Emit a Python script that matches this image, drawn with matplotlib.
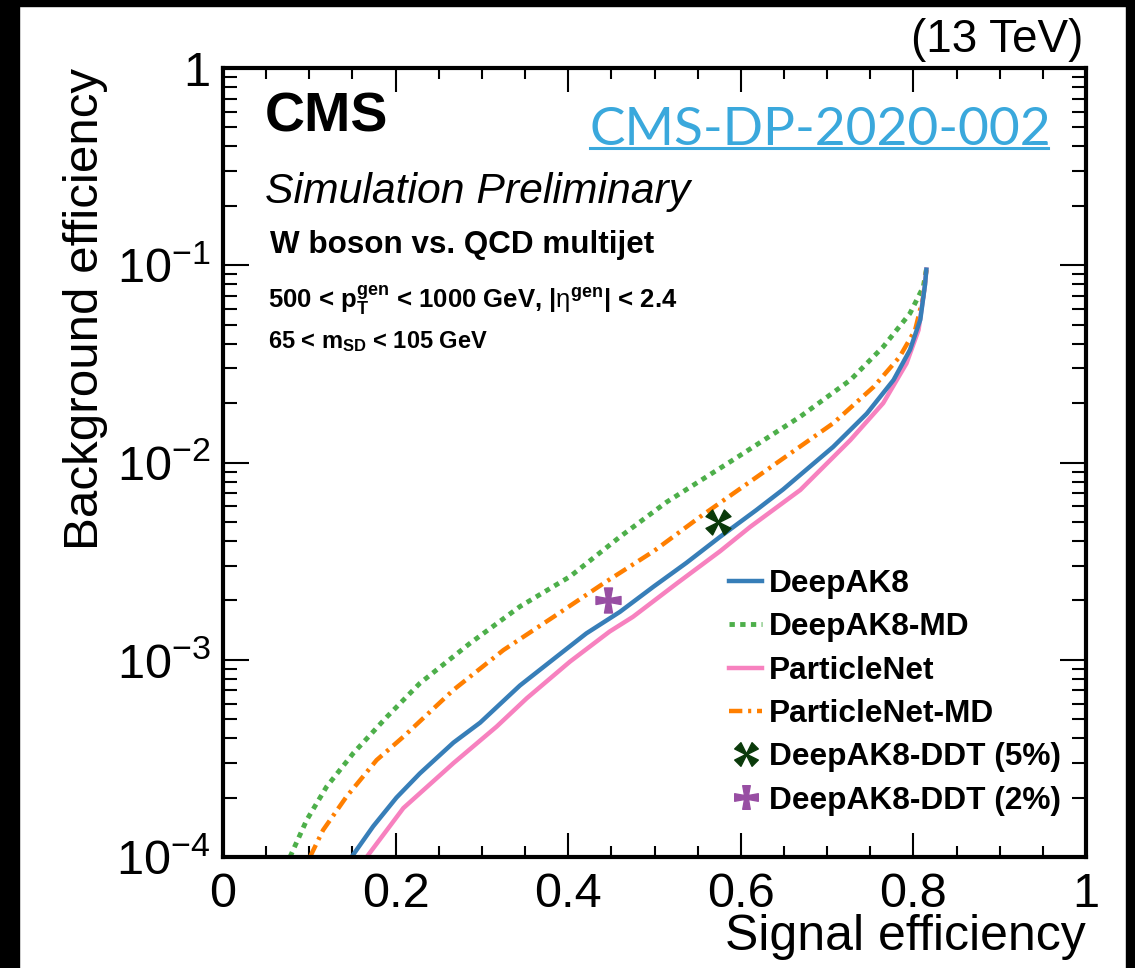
import numpy as np
import matplotlib
matplotlib.use("Agg")
import matplotlib.pyplot as plt
from matplotlib.path import Path
from matplotlib.lines import Line2D
from matplotlib.patches import Rectangle

plt.rcParams["font.family"] = ["Liberation Sans", "DejaVu Sans"]
plt.rcParams["mathtext.fontset"] = "custom"
plt.rcParams["mathtext.rm"] = "Liberation Sans"
plt.rcParams["mathtext.bf"] = "Liberation Sans:bold"
plt.rcParams["mathtext.it"] = "Liberation Sans:italic"

# ___ ROC curves (signal eff, background eff)
deepak8_x = [0.149, 0.174, 0.201, 0.228, 0.267, 0.298, 0.344, 0.387, 0.421, 0.460,
             0.499, 0.537, 0.576, 0.618, 0.649, 0.707, 0.746, 0.777, 0.796, 0.808,
             0.8135, 0.815]
deepak8_y = [1.0e-4, 1.43e-4, 2.0e-4, 2.65e-4, 3.8e-4, 4.8e-4, 7.4e-4, 1.04e-3, 1.36e-3, 1.75e-3,
             2.35e-3, 3.1e-3, 4.2e-3, 5.74e-3, 7.3e-3, 1.2e-2, 1.77e-2, 2.62e-2, 3.72e-2, 5.3e-2,
             8.0e-2, 9.5e-2]

pnet_x = [0.1665, 0.209, 0.267, 0.317, 0.352, 0.402, 0.448, 0.475, 0.526, 0.576,
          0.611, 0.669, 0.727, 0.765, 0.792, 0.806, 0.8135, 0.815]
pnet_y = [1.0e-4, 1.77e-4, 2.99e-4, 4.58e-4, 6.38e-4, 9.78e-4, 1.39e-3, 1.65e-3, 2.44e-3, 3.55e-3,
          4.72e-3, 7.26e-3, 1.3e-2, 2.0e-2, 3.18e-2, 4.7e-2, 8.0e-2, 9.5e-2]

deepak8md_x = [0.0776, 0.097, 0.120, 0.151, 0.190, 0.228, 0.286, 0.344, 0.402, 0.460,
               0.514, 0.591, 0.669, 0.727, 0.765, 0.796, 0.8115, 0.815]
deepak8md_y = [1.0e-4, 1.54e-4, 2.27e-4, 3.36e-4, 5.14e-4, 7.59e-4, 1.21e-3, 1.86e-3, 2.64e-3, 4.2e-3,
               6.3e-3, 1.03e-2, 1.71e-2, 2.62e-2, 3.86e-2, 5.7e-2, 7.78e-2, 9.5e-2]

pnetmd_x = [0.1008, 0.116, 0.143, 0.178, 0.209, 0.267, 0.325, 0.383, 0.441, 0.499,
            0.553, 0.630, 0.707, 0.754, 0.784, 0.802, 0.8115, 0.815]
pnetmd_y = [1.0e-4, 1.37e-4, 2.02e-4, 3.10e-4, 4.07e-4, 7.03e-4, 1.12e-3, 1.65e-3, 2.44e-3, 3.55e-3,
            5.31e-3, 9.16e-3, 1.58e-2, 2.42e-2, 3.43e-2, 4.7e-2, 6.93e-2, 9.5e-2]

# ___ DDT working points
ddt5 = (0.574, 5.0e-3)
ddt2 = (0.4465, 2.0e-3)

xtick_vals = [0, 0.2, 0.4, 0.6, 0.8, 1]
xtick_labels = ["0", "0.2", "0.4", "0.6", "0.8", "1"]
ytick_vals = [1e-4, 1e-3, 1e-2, 1e-1, 1]
ytick_labels = [r"$\mathdefault{10^{-4}}$", r"$\mathdefault{10^{-3}}$",
                r"$\mathdefault{10^{-2}}$", r"$\mathdefault{10^{-1}}$", "1"]

c_blue, c_green, c_pink, c_orange = "#377eb8", "#4daf4a", "#f781bf", "#ff7f00"
c_purple, c_dkgreen = "#984ea3", "#0a3a0a"


def cross_marker(inner, outer, angle=0.0):
    pts = []
    for k in range(4):
        a = np.deg2rad(angle + 90 * k)
        ca, sa = np.cos(a), np.sin(a)
        for px, py in [(inner, inner), (outer, 1.0), (-outer, 1.0)]:
            pts.append((px * ca - py * sa, px * sa + py * ca))
    pts.append(pts[0])
    codes = [Path.MOVETO] + [Path.LINETO] * (len(pts) - 2) + [Path.CLOSEPOLY]
    return Path(pts, codes)


maltese = cross_marker(0.17, 0.32)
pinwheel = cross_marker(0.04, 0.36, angle=45)

W, H = 1135, 968
fig = plt.figure(figsize=(W / 100, H / 100), dpi=100)
ax = fig.add_axes([223 / W, 1 - 857 / H, (1086 - 223) / W, (857 - 68) / H])


def fpos(x, y):
    return x / W, 1 - y / H


ax.plot(deepak8md_x, deepak8md_y, color=c_green, lw=3.5, dashes=(1.1, 1.1))
ax.plot(pnetmd_x, pnetmd_y, color=c_orange, lw=3.2, dashes=(3.0, 1.3, 0.7, 1.3),
        dash_capstyle="butt")
ax.plot(pnet_x, pnet_y, color=c_pink, lw=3.2)
ax.plot(deepak8_x, deepak8_y, color=c_blue, lw=3.2)
ax.plot(*ddt5, marker=pinwheel, ms=18, color=c_dkgreen, ls="none")
ax.plot(*ddt2, marker=maltese, ms=18, color=c_purple, ls="none")

ax.set_yscale("log")
ax.set_xlim(0, 1)
ax.set_ylim(1e-4, 1)
ax.set_xticks(xtick_vals, xtick_labels)
ax.set_xticks(np.arange(0, 1.0001, 0.05), minor=True)
ax.set_yticks(ytick_vals, ytick_labels)
ax.yaxis.set_minor_locator(matplotlib.ticker.LogLocator(base=10, subs=np.arange(2, 10)))
ax.yaxis.set_minor_formatter(matplotlib.ticker.NullFormatter())

for s in ax.spines.values():
    s.set_linewidth(3)
ax.tick_params(which="both", direction="in", top=True, right=True, width=1.5,
               labelsize=35, colors="black")
ax.tick_params(axis="x", which="major", length=17, pad=11)
ax.tick_params(axis="x", which="minor", length=8)
ax.tick_params(axis="y", which="major", length=19, pad=9)
ax.tick_params(axis="y", which="minor", length=10)

ax.set_xlabel("Signal efficiency", fontsize=36, loc="right", labelpad=-2)
ax.set_ylabel("Background efficiency", fontsize=35.5, loc="top", labelpad=6)

# ___ labels
fig.text(*fpos(265, 132), "CMS", fontsize=40, fontweight="bold", va="baseline")
fig.text(*fpos(265, 203), "Simulation Preliminary", fontsize=30.8, style="italic",
         va="baseline")
fig.text(*fpos(270, 253), "W boson vs. QCD multijet", fontsize=22.6, fontweight="bold",
         va="baseline")
fig.text(*fpos(268, 308),
         r"500 < $\mathbf{p}_{\mathbf{T}}^{\mathbf{gen}}$ < 1000 GeV, |$\mathrm{\eta}^{\mathbf{gen}}$| < 2.4",
         fontsize=18.5, fontweight="bold", va="baseline")
fig.text(*fpos(268, 348), r"65 < $\mathbf{m}_{\mathbf{SD}}$ < 105 GeV",
         fontsize=17, fontweight="bold", va="baseline")
fig.text(*fpos(1083, 52), "(13 TeV)", fontsize=33, ha="right", va="baseline")

fig.text(*fpos(590, 145), "CMS-DP-2020-002", fontsize=38.3, color="#3aa8dc",
         family="Lato", va="baseline")
fig.add_artist(Line2D([590 / W, 1048 / W], [1 - 148 / H] * 2, color="#3aa8dc", lw=2.2))

handles = [
    Line2D([], [], color=c_blue, lw=3.2),
    Line2D([], [], color=c_green, lw=3.5, dashes=(1.1, 1.1)),
    Line2D([], [], color=c_pink, lw=3.2),
    Line2D([], [], color=c_orange, lw=3.2, dashes=(3.0, 1.3, 0.7, 1.3)),
    Line2D([], [], marker=pinwheel, ms=17, color=c_dkgreen, ls="none"),
    Line2D([], [], marker=maltese, ms=17, color=c_purple, ls="none"),
]
labels = ["DeepAK8", "DeepAK8-MD", "ParticleNet", "ParticleNet-MD",
          "DeepAK8-DDT (5%)", "DeepAK8-DDT (2%)"]
fig.legend(handles, labels, loc="upper left", bbox_to_anchor=fpos(729, 569),
           frameon=False, borderpad=0, borderaxespad=0, handlelength=1.05,
           handletextpad=0.22, labelspacing=0.42,
           prop={"size": 22.8, "weight": "bold"})

# ___ dark frame around the picture
for r in [(0, 0, 19 / W, 1), (0, 1 - 6 / H, 1, 6 / H), (1126 / W, 0, 9 / W, 1)]:
    fig.add_artist(Rectangle(r[:2], r[2], r[3], transform=fig.transFigure,
                             color="black", zorder=10))

fig.savefig("out.png", dpi=100)
